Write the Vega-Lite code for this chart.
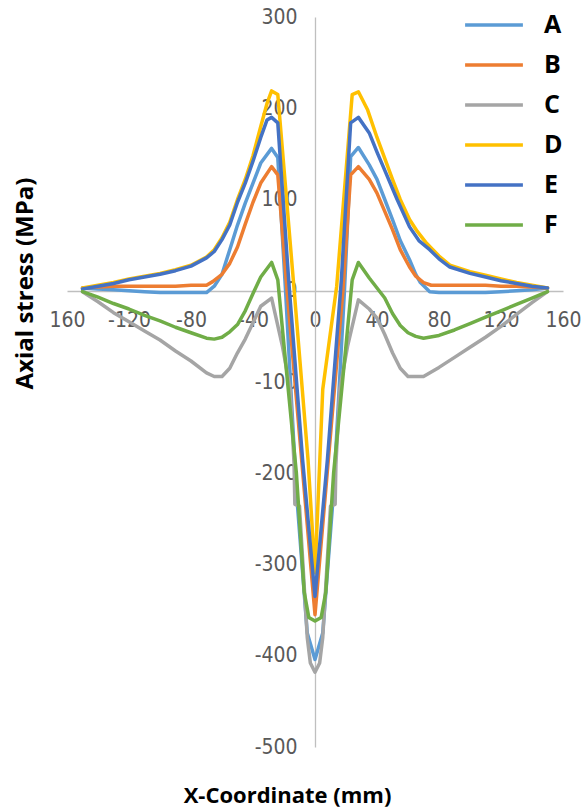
{
  "$schema": "https://vega.github.io/schema/vega-lite/v6.json",
  "width": 496,
  "height": 730,
  "autosize": {"type": "none"},
  "padding": {"left": 67, "top": 17, "right": 23, "bottom": 63},
  "background": "white",
  "config": {"view": {"stroke": null}, "font": "Open Sans"},
  "data": {"values": [
    {"s":"A","x":-150,"y":3},{"s":"A","x":-140,"y":2},{"s":"A","x":-130,"y":1},{"s":"A","x":-120,"y":0},{"s":"A","x":-110,"y":-1},{"s":"A","x":-100,"y":-2},{"s":"A","x":-90,"y":-2},{"s":"A","x":-80,"y":-2},{"s":"A","x":-70,"y":-2},{"s":"A","x":-65,"y":5},{"s":"A","x":-60,"y":18},{"s":"A","x":-55,"y":45},{"s":"A","x":-50,"y":72},{"s":"A","x":-45,"y":96},{"s":"A","x":-40,"y":118},{"s":"A","x":-35,"y":140},{"s":"A","x":-28,"y":156},{"s":"A","x":-24,"y":146},{"s":"A","x":-19,"y":0},{"s":"A","x":-12,"y":-220},{"s":"A","x":-5,"y":-375},{"s":"A","x":0,"y":-404},{"s":"A","x":5,"y":-375},{"s":"A","x":12,"y":-220},{"s":"A","x":19,"y":0},{"s":"A","x":23,"y":147},{"s":"A","x":28,"y":157},{"s":"A","x":35,"y":138},{"s":"A","x":40,"y":122},{"s":"A","x":45,"y":100},{"s":"A","x":50,"y":78},{"s":"A","x":55,"y":55},{"s":"A","x":61,"y":34},{"s":"A","x":65,"y":18},{"s":"A","x":68,"y":9},{"s":"A","x":74,"y":-1},{"s":"A","x":80,"y":-2},{"s":"A","x":90,"y":-2},{"s":"A","x":100,"y":-2},{"s":"A","x":110,"y":-2},{"s":"A","x":120,"y":-1},{"s":"A","x":130,"y":0},{"s":"A","x":140,"y":1},{"s":"A","x":150,"y":3},
    {"s":"B","x":-150,"y":3},{"s":"B","x":-140,"y":4},{"s":"B","x":-130,"y":5},{"s":"B","x":-120,"y":5},{"s":"B","x":-110,"y":5},{"s":"B","x":-100,"y":5},{"s":"B","x":-90,"y":5},{"s":"B","x":-80,"y":6},{"s":"B","x":-70,"y":6},{"s":"B","x":-66,"y":10},{"s":"B","x":-60,"y":18},{"s":"B","x":-55,"y":30},{"s":"B","x":-50,"y":48},{"s":"B","x":-45,"y":73},{"s":"B","x":-40,"y":97},{"s":"B","x":-35,"y":118},{"s":"B","x":-28,"y":136},{"s":"B","x":-24,"y":127},{"s":"B","x":-18,"y":0},{"s":"B","x":0,"y":-355},{"s":"B","x":18,"y":0},{"s":"B","x":23,"y":127},{"s":"B","x":28,"y":136},{"s":"B","x":35,"y":122},{"s":"B","x":40,"y":107},{"s":"B","x":45,"y":87},{"s":"B","x":50,"y":67},{"s":"B","x":55,"y":45},{"s":"B","x":61,"y":26},{"s":"B","x":65,"y":16},{"s":"B","x":70,"y":9},{"s":"B","x":75,"y":6},{"s":"B","x":80,"y":6},{"s":"B","x":90,"y":6},{"s":"B","x":100,"y":6},{"s":"B","x":110,"y":6},{"s":"B","x":120,"y":5},{"s":"B","x":130,"y":5},{"s":"B","x":140,"y":4},{"s":"B","x":150,"y":3},
    {"s":"C","x":-150,"y":-1},{"s":"C","x":-140,"y":-12},{"s":"C","x":-130,"y":-24},{"s":"C","x":-120,"y":-34},{"s":"C","x":-110,"y":-44},{"s":"C","x":-100,"y":-54},{"s":"C","x":-90,"y":-66},{"s":"C","x":-80,"y":-77},{"s":"C","x":-70,"y":-90},{"s":"C","x":-65,"y":-94},{"s":"C","x":-60,"y":-94},{"s":"C","x":-55,"y":-85},{"s":"C","x":-50,"y":-68},{"s":"C","x":-45,"y":-53},{"s":"C","x":-40,"y":-35},{"s":"C","x":-35,"y":-17},{"s":"C","x":-28,"y":-8},{"s":"C","x":-21,"y":-61},{"s":"C","x":-16,"y":-108},{"s":"C","x":-13.5,"y":-190},{"s":"C","x":-13,"y":-234},{"s":"C","x":-10,"y":-236},{"s":"C","x":-5,"y":-380},{"s":"C","x":-3,"y":-408},{"s":"C","x":0,"y":-418},{"s":"C","x":3,"y":-408},{"s":"C","x":5,"y":-380},{"s":"C","x":10,"y":-236},{"s":"C","x":13,"y":-234},{"s":"C","x":13.5,"y":-190},{"s":"C","x":16,"y":-108},{"s":"C","x":21,"y":-61},{"s":"C","x":28,"y":-10},{"s":"C","x":35,"y":-20},{"s":"C","x":40,"y":-30},{"s":"C","x":45,"y":-48},{"s":"C","x":50,"y":-68},{"s":"C","x":55,"y":-85},{"s":"C","x":60,"y":-94},{"s":"C","x":70,"y":-94},{"s":"C","x":80,"y":-84},{"s":"C","x":90,"y":-73},{"s":"C","x":100,"y":-62},{"s":"C","x":110,"y":-51},{"s":"C","x":120,"y":-39},{"s":"C","x":130,"y":-26},{"s":"C","x":140,"y":-13},{"s":"C","x":150,"y":-1},
    {"s":"D","x":-150,"y":3},{"s":"D","x":-140,"y":6},{"s":"D","x":-130,"y":9},{"s":"D","x":-120,"y":13},{"s":"D","x":-110,"y":16},{"s":"D","x":-100,"y":19},{"s":"D","x":-90,"y":23},{"s":"D","x":-80,"y":28},{"s":"D","x":-70,"y":37},{"s":"D","x":-65,"y":45},{"s":"D","x":-60,"y":58},{"s":"D","x":-55,"y":75},{"s":"D","x":-50,"y":100},{"s":"D","x":-45,"y":122},{"s":"D","x":-40,"y":148},{"s":"D","x":-35,"y":180},{"s":"D","x":-31,"y":205},{"s":"D","x":-28,"y":219},{"s":"D","x":-24,"y":215},{"s":"D","x":-14,"y":12},{"s":"D","x":-4.5,"y":-185},{"s":"D","x":0,"y":-309},{"s":"D","x":3,"y":-190},{"s":"D","x":5,"y":-108},{"s":"D","x":14,"y":5},{"s":"D","x":24,"y":215},{"s":"D","x":28,"y":218},{"s":"D","x":34,"y":198},{"s":"D","x":40,"y":168},{"s":"D","x":45,"y":145},{"s":"D","x":50,"y":122},{"s":"D","x":55,"y":100},{"s":"D","x":61,"y":78},{"s":"D","x":66,"y":65},{"s":"D","x":72,"y":52},{"s":"D","x":80,"y":38},{"s":"D","x":87,"y":28},{"s":"D","x":100,"y":21},{"s":"D","x":110,"y":17},{"s":"D","x":120,"y":13},{"s":"D","x":130,"y":9},{"s":"D","x":140,"y":6},{"s":"D","x":150,"y":3},
    {"s":"E","x":-150,"y":2},{"s":"E","x":-140,"y":5},{"s":"E","x":-130,"y":8},{"s":"E","x":-120,"y":12},{"s":"E","x":-110,"y":15},{"s":"E","x":-100,"y":18},{"s":"E","x":-90,"y":22},{"s":"E","x":-80,"y":27},{"s":"E","x":-70,"y":36},{"s":"E","x":-65,"y":43},{"s":"E","x":-60,"y":56},{"s":"E","x":-55,"y":72},{"s":"E","x":-50,"y":97},{"s":"E","x":-45,"y":118},{"s":"E","x":-40,"y":142},{"s":"E","x":-35,"y":168},{"s":"E","x":-31,"y":187},{"s":"E","x":-28,"y":190},{"s":"E","x":-24,"y":184},{"s":"E","x":-17,"y":12},{"s":"E","x":-8,"y":-185},{"s":"E","x":0,"y":-335},{"s":"E","x":8,"y":-185},{"s":"E","x":17,"y":12},{"s":"E","x":23,"y":184},{"s":"E","x":28,"y":190},{"s":"E","x":35,"y":173},{"s":"E","x":40,"y":152},{"s":"E","x":44,"y":136},{"s":"E","x":50,"y":112},{"s":"E","x":53,"y":100},{"s":"E","x":61,"y":70},{"s":"E","x":67,"y":55},{"s":"E","x":74,"y":45},{"s":"E","x":80,"y":35},{"s":"E","x":87,"y":26},{"s":"E","x":100,"y":19},{"s":"E","x":110,"y":15},{"s":"E","x":120,"y":11},{"s":"E","x":130,"y":8},{"s":"E","x":140,"y":5},{"s":"E","x":150,"y":3},
    {"s":"F","x":-150,"y":-1},{"s":"F","x":-140,"y":-7},{"s":"F","x":-130,"y":-14},{"s":"F","x":-120,"y":-20},{"s":"F","x":-110,"y":-27},{"s":"F","x":-100,"y":-33},{"s":"F","x":-90,"y":-40},{"s":"F","x":-80,"y":-46},{"s":"F","x":-70,"y":-52},{"s":"F","x":-65,"y":-53},{"s":"F","x":-60,"y":-51},{"s":"F","x":-55,"y":-45},{"s":"F","x":-50,"y":-37},{"s":"F","x":-45,"y":-22},{"s":"F","x":-40,"y":-3},{"s":"F","x":-35,"y":15},{"s":"F","x":-28,"y":31},{"s":"F","x":-24,"y":12},{"s":"F","x":-20,"y":-60},{"s":"F","x":-12,"y":-200},{"s":"F","x":-7,"y":-330},{"s":"F","x":-4,"y":-358},{"s":"F","x":0,"y":-362},{"s":"F","x":4,"y":-358},{"s":"F","x":7,"y":-330},{"s":"F","x":12,"y":-200},{"s":"F","x":20,"y":-60},{"s":"F","x":24,"y":12},{"s":"F","x":28,"y":31},{"s":"F","x":35,"y":14},{"s":"F","x":40,"y":3},{"s":"F","x":45,"y":-8},{"s":"F","x":50,"y":-25},{"s":"F","x":55,"y":-38},{"s":"F","x":60,"y":-46},{"s":"F","x":65,"y":-50},{"s":"F","x":70,"y":-52},{"s":"F","x":80,"y":-49},{"s":"F","x":90,"y":-43},{"s":"F","x":100,"y":-36},{"s":"F","x":110,"y":-29},{"s":"F","x":120,"y":-22},{"s":"F","x":130,"y":-15},{"s":"F","x":140,"y":-8},{"s":"F","x":150,"y":-1}
  ]},
  "mark": {"type": "line", "strokeWidth": 3.5, "strokeJoin": "round", "strokeCap": "round"},
  "encoding": {
    "x": {
      "field": "x", "type": "quantitative",
      "scale": {"domain": [-160, 160], "nice": false, "zero": false},
      "axis": {
        "offset": -456,
        "values": [-160, -120, -80, -40, 0, 40, 80, 120, 160],
        "labelExpr": "datum.value == -160 ? '160' : '' + datum.value",
        "ticks": false, "grid": false,
        "domainColor": "#BFBFBF", "domainWidth": 1.3,
        "labelFont": "'Liberation Sans Narrow', 'DejaVu Sans Condensed', sans-serif",
        "labelFontSize": 21, "labelColor": "#595959", "labelPadding": 18,
        "labelFlush": false, "labelOverlap": false,
        "title": "X-Coordinate (mm)",
        "titleX": 220, "titleY": 504, "titleAlign": "center", "titleBaseline": "middle",
        "titleFont": "Open Sans", "titleFontSize": 22, "titleFontWeight": "bold", "titleColor": "#000000"
      }
    },
    "y": {
      "field": "y", "type": "quantitative",
      "scale": {"domain": [-500, 300], "nice": false, "zero": false},
      "axis": {
        "offset": -248,
        "values": [-500, -400, -300, -200, -100, 0, 100, 200, 300],
        "labelExpr": "'' + datum.value",
        "ticks": false, "grid": false,
        "domainColor": "#BFBFBF", "domainWidth": 1.3,
        "labelFont": "'Liberation Sans Narrow', 'DejaVu Sans Condensed', sans-serif",
        "labelFontSize": 21, "labelColor": "#595959", "labelPadding": 18,
        "labelFlush": false, "labelOverlap": false,
        "title": "Axial stress (MPa)",
        "titleX": -290, "titleY": 266, "titleAngle": -90, "titleAlign": "center", "titleBaseline": "middle",
        "titleFont": "Open Sans", "titleFontSize": 24, "titleFontWeight": "bold", "titleColor": "#000000"
      }
    },
    "color": {
      "field": "s", "type": "nominal",
      "scale": {"domain": ["A", "B", "C", "D", "E", "F"], "range": ["#5B9BD5", "#ED7D31", "#A5A5A5", "#FFC000", "#4472C4", "#70AD47"]},
      "legend": {
        "orient": "none", "legendX": 408, "legendY": -11, "title": null,
        "symbolType": "M-1.7,0H1.7", "symbolSize": 1156, "symbolStrokeWidth": 3.5,
        "labelFont": "Open Sans", "labelFontSize": 25, "labelFontWeight": "bold", "labelColor": "#000000",
        "labelOffset": 31, "rowPadding": 8, "padding": 0
      }
    }
  }
}
